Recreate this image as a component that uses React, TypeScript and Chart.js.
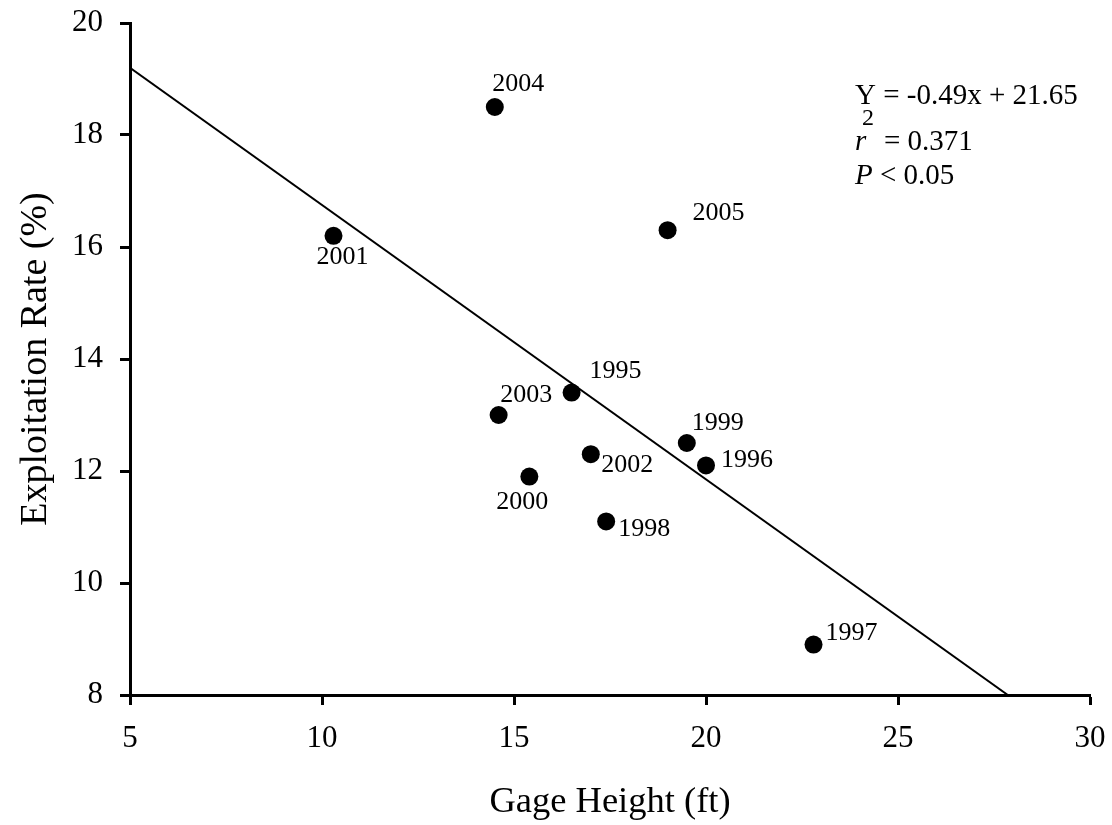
import React, { useEffect, useRef } from "react";
import { Chart, registerables } from "chart.js";

Chart.register(...registerables);

// ---- Data ----
const years = ["1995", "1996", "1997", "1998", "1999", "2000", "2001", "2002", "2003", "2004", "2005"];
const gageHeight = [16.5, 20.0, 22.8, 17.4, 19.5, 15.4, 10.3, 17.0, 14.6, 14.5, 19.0];
const exploitationRate = [13.4, 12.1, 8.9, 11.1, 12.5, 11.9, 16.2, 12.3, 13.0, 18.5, 16.3];
const fitX = [5, 27.86];
const fitY = [19.2, 8.0];
const xTicks = [5, 10, 15, 20, 25, 30];
const yTicks = [8, 10, 12, 14, 16, 18, 20];
const equationText = "Y = -0.49x + 21.65";
const r2Text = "= 0.371";
const pText = " < 0.05";

// label placement offsets (px, text centre relative to point)
const labelOffsets: [number, number][] = [
  [44, -21], [41, -5], [38, -11], [38, 8], [31, -20], [-7, 26],
  [9, 21], [36.5, 11], [27.5, -20], [23.5, -22.4], [51, -17],
];

const FONT = '"Liberation Serif", "Times New Roman", serif';

const labelPlugin = {
  id: "pointLabels",
  afterDraw(chart: any) {
    const ctx = chart.ctx;
    const xs = chart.scales.x;
    const ys = chart.scales.y;
    ctx.save();
    ctx.fillStyle = "#000";
    ctx.font = `26px ${FONT}`;
    ctx.textAlign = "center";
    ctx.textBaseline = "middle";
    years.forEach((yr, i) => {
      const px = xs.getPixelForValue(gageHeight[i]);
      const py = ys.getPixelForValue(exploitationRate[i]);
      ctx.fillText(yr, px + labelOffsets[i][0], py + labelOffsets[i][1]);
    });

    // regression annotation
    const ca = chart.chartArea;
    const left = ca.right - 235;
    const b1 = ca.top + 80.5;
    const b2 = ca.top + 127;
    const b3 = ca.top + 161;
    ctx.textAlign = "left";
    ctx.textBaseline = "alphabetic";
    ctx.font = `29px ${FONT}`;
    ctx.fillText(equationText, left, b1);

    ctx.font = `italic 29px ${FONT}`;
    ctx.fillText("r", left, b2);
    ctx.font = `24px ${FONT}`;
    ctx.fillText("2", left + 7, b2 - 25);
    ctx.font = `29px ${FONT}`;
    ctx.fillText(r2Text, left + 29, b2);

    ctx.font = `italic 29px ${FONT}`;
    ctx.fillText("P", left, b3);
    const pw = ctx.measureText("P").width;
    ctx.font = `29px ${FONT}`;
    ctx.fillText(pText, left + pw, b3);
    ctx.restore();
  },
};

export default function App() {
  const ref = useRef<HTMLCanvasElement | null>(null);

  useEffect(() => {
    if (!ref.current) return;
    const chart = new Chart(ref.current, {
      type: "scatter",
      data: {
        datasets: [
          {
            type: "line",
            label: "fit",
            data: fitX.map((x, i) => ({ x, y: fitY[i] })),
            borderColor: "#000",
            borderWidth: 2,
            pointRadius: 0,
            fill: false,
          } as any,
          {
            label: "points",
            data: gageHeight.map((x, i) => ({ x, y: exploitationRate[i] })),
            backgroundColor: "#000",
            borderColor: "#000",
            borderWidth: 0,
            pointRadius: 9,
          },
        ],
      },
      options: {
        responsive: false,
        animation: false,
        layout: { padding: { top: 23, right: 22, left: 0, bottom: 0 } },
        plugins: {
          legend: { display: false },
          tooltip: { enabled: false },
        },
        scales: {
          x: {
            type: "linear",
            min: 5,
            max: 30,
            afterBuildTicks: (s: any) => {
              s.ticks = xTicks.map((v) => ({ value: v }));
            },
            afterFit: (s: any) => {
              s.height = 130;
              s.paddingLeft = 0;
              s.paddingRight = 0;
            },
            ticks: {
              color: "#000",
              font: { family: FONT, size: 31 },
              padding: 15,
              maxRotation: 0,
            },
            grid: {
              drawOnChartArea: false,
              drawTicks: true,
              tickLength: 10,
              tickWidth: 3,
              tickColor: "#000",
            },
            border: { display: true, color: "#000", width: 3 },
            title: {
              display: true,
              text: "Gage Height (ft)",
              color: "#000",
              font: { family: FONT, size: 36.5, lineHeight: 1 },
              padding: { top: 0, bottom: 4 },
            },
          },
          y: {
            type: "linear",
            min: 8,
            max: 20,
            afterBuildTicks: (s: any) => {
              s.ticks = yTicks.map((v) => ({ value: v }));
            },
            afterFit: (s: any) => {
              s.width = 130;
              s.paddingTop = 0;
              s.paddingBottom = 0;
            },
            ticks: {
              color: "#000",
              font: { family: FONT, size: 31 },
              padding: 17,
            },
            grid: {
              drawOnChartArea: false,
              drawTicks: true,
              tickLength: 10,
              tickWidth: 3,
              tickColor: "#000",
            },
            border: { display: true, color: "#000", width: 3 },
            title: {
              display: true,
              text: "Exploitation Rate (%)",
              color: "#000",
              font: { family: FONT, size: 38, lineHeight: 1 },
              padding: { top: 17, bottom: 0 },
            },
          },
        },
      },
      plugins: [labelPlugin],
    });
    return () => chart.destroy();
  }, []);

  return (
    <div style={{ position: "fixed", left: 0, top: 0, width: 1112, height: 825, background: "#fff" }}>
      <canvas ref={ref} width={1112} height={825} style={{ display: "block" }} />
    </div>
  );
}
